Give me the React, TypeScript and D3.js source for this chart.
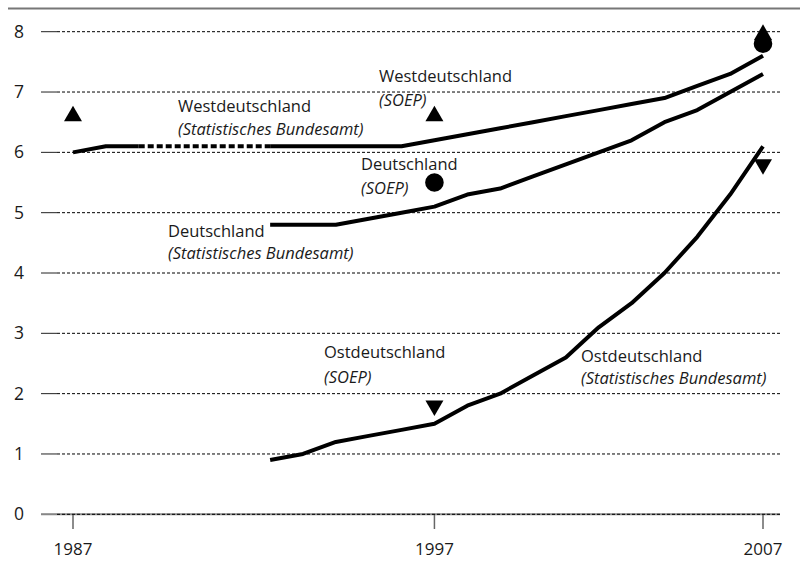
import React from 'react';
import * as d3 from 'd3';

// 22 positions on the x axis, only three of them labelled
const xLabels = ['1987', '1997', '2007'];
const xLabelIdx = [0, 11, 21];

// Statistisches Bundesamt series (null = no value)
const westStat = [6.0, 6.1, 6.1, null, null, null, 6.1, 6.1, 6.1, 6.1, 6.1, 6.2, 6.3, 6.4, 6.5, 6.6, 6.7, 6.8, 6.9, 7.1, 7.3, 7.6];
const deStat = [null, null, null, null, null, null, 4.8, 4.8, 4.8, 4.9, 5.0, 5.1, 5.3, 5.4, 5.6, 5.8, 6.0, 6.2, 6.5, 6.7, 7.0, 7.3];
const ostStat = [null, null, null, null, null, null, 0.9, 1.0, 1.2, 1.3, 1.4, 1.5, 1.8, 2.0, 2.3, 2.6, 3.1, 3.5, 4.0, 4.6, 5.3, 6.1];

// SOEP points at 1987, 1997, 2007
const westSoep = [6.6, 6.6, 7.95];
const deSoep = [null, 5.5, 7.8];
const ostSoep = [null, 1.8, 5.8];

const yTicks = [0, 1, 2, 3, 4, 5, 6, 7, 8];

const labels = [
  {name: 'Westdeutschland', src: '(Statistisches Bundesamt)', x: 178, y: 112, gap: 23},
  {name: 'Westdeutschland', src: '(SOEP)', x: 379, y: 82, gap: 24},
  {name: 'Deutschland', src: '(SOEP)', x: 361, y: 170, gap: 24},
  {name: 'Deutschland', src: '(Statistisches Bundesamt)', x: 168, y: 237, gap: 22},
  {name: 'Ostdeutschland', src: '(SOEP)', x: 324, y: 358, gap: 25},
  {name: 'Ostdeutschland', src: '(Statistisches Bundesamt)', x: 581, y: 362, gap: 22},
];

const W = 800, H = 561;
const font = '"Open Sans", sans-serif';

export default function App() {
  const x = d3.scaleLinear().domain([0, 21]).range([73, 763]);
  const y = d3.scaleLinear().domain([0, 8]).range([514.3, 31.7]);

  const line = d3.line<[number, number | null]>()
    .defined(d => d[1] != null)
    .x(d => x(d[0]))
    .y(d => y(d[1] as number));

  const pairs = (arr: (number | null)[]) => arr.map((v, i) => [i, v] as [number, number | null]);

  // dotted bridge over the missing West values
  const bridge: [number, number | null][] = [[2, westStat[2]], [6, westStat[6]]];

  const triUp = d3.symbol().type(d3.symbolTriangle).size(140)()!;
  const circle = d3.symbol().type(d3.symbolCircle).size(Math.PI * 9.3 * 9.3)()!;

  const marks: {kind: string, i: number, v: number}[] = [];
  westSoep.forEach((v, k) => { if (v != null) marks.push({kind: 'up', i: xLabelIdx[k], v}); });
  deSoep.forEach((v, k) => { if (v != null) marks.push({kind: 'circle', i: xLabelIdx[k], v}); });
  ostSoep.forEach((v, k) => { if (v != null) marks.push({kind: 'down', i: xLabelIdx[k], v}); });

  return (
    <svg width={W} height={H} style={{position: 'absolute', left: 0, top: 0}} fontFamily={font}>
      <rect width={W} height={H} fill="#fff" />
      <line x1={8} x2={W} y1={8.5} y2={8.5} stroke="#777" strokeWidth={2} />

      {/* y grid + ticks */}
      {yTicks.map(t => (
        <g key={t}>
          {t === 0 && <line x1={41} x2={780} y1={y(t)} y2={y(t)} stroke="#888" strokeWidth={2} />}
          <line x1={41} x2={57} y1={y(t)} y2={y(t)} stroke={t === 0 ? '#888' : '#222'} strokeWidth={1} />
          <line x1={57} x2={780} y1={y(t)} y2={y(t)} stroke="#000" strokeWidth={1} strokeDasharray="3,2" />
          <text x={19} y={y(t) + 6} fontSize={17.5} textAnchor="middle" fill="#1a1a1a">{t}</text>
        </g>
      ))}

      {/* x ticks */}
      {xLabelIdx.map((i, k) => (
        <g key={i}>
          <line x1={x(i)} x2={x(i)} y1={515} y2={529} stroke="#666" strokeWidth={1.5} />
          <text x={x(i)} y={555} fontSize={17} textAnchor="middle" fill="#1a1a1a">{xLabels[k]}</text>
        </g>
      ))}

      {/* series */}
      <g fill="none" stroke="#000" strokeWidth={4} strokeLinejoin="round">
        <path d={line(pairs(westStat))!} />
        <path d={line(bridge)!} strokeDasharray="6,3" strokeLinecap="butt" />
        <path d={line(pairs(deStat))!} />
        <path d={line(pairs(ostStat))!} />
      </g>

      {/* SOEP markers */}
      {marks.map((m, k) => (
        <path key={k}
          d={m.kind === 'circle' ? circle : triUp}
          transform={`translate(${x(m.i)},${y(m.v)})${m.kind === 'down' ? ' rotate(180)' : ''}`}
          fill="#000" />
      ))}

      {/* labels */}
      {labels.map((l, k) => (
        <g key={k} fontSize={16.5} fill="#1a1a1a">
          <text x={l.x} y={l.y}>{l.name}</text>
          <text x={l.x} y={l.y + l.gap} fontStyle="italic">{l.src}</text>
        </g>
      ))}
    </svg>
  );
}
